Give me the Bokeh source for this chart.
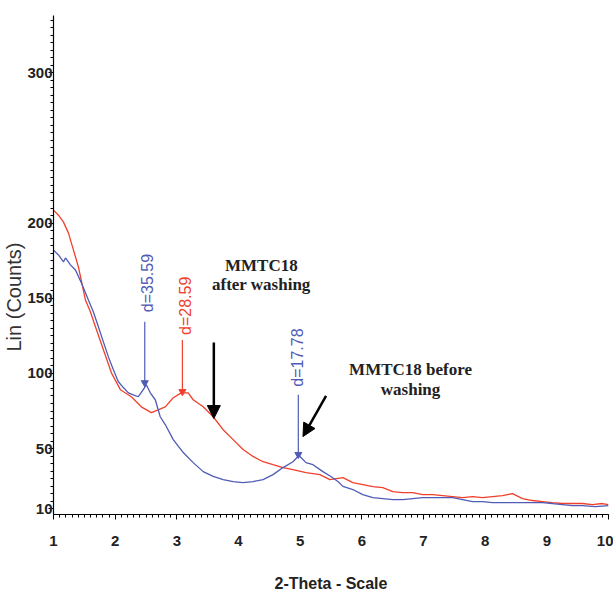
import math
from bokeh.plotting import figure
from bokeh.models import FixedTicker, Label, Arrow, NormalHead, Title
from bokeh.embed import file_html
from bokeh.resources import INLINE

# ---- data ----
red_x = [1.000, 1.081, 1.162, 1.243, 1.324, 1.405, 1.518, 1.599, 1.680, 1.809, 1.939,
         2.084, 2.262, 2.424, 2.586, 2.699, 2.812, 2.942, 3.071, 3.184, 3.265, 3.427,
         3.589, 3.751, 3.913, 4.074, 4.236, 4.398, 4.560, 4.722, 4.883, 5.094, 5.320,
         5.482, 5.693, 5.854, 6.016, 6.178, 6.340, 6.502, 6.663, 6.825, 6.987, 7.149,
         7.311, 7.472, 7.634, 7.796, 7.958, 8.120, 8.282, 8.443, 8.605, 8.767, 8.929,
         9.091, 9.252, 9.414, 9.576, 9.738, 9.900, 10.000]
red_y = [208.6, 205.2, 200.6, 193.3, 182.0, 170.7, 148.8, 140.9, 131.0, 115.7, 100.4,
         89.2, 84.5, 77.8, 73.9, 75.8, 77.8, 83.8, 87.1, 87.1, 82.5, 77.8,
         71.2, 62.6, 56.0, 49.4, 44.8, 41.3, 39.3, 37.4, 36.0, 34.0, 32.7,
         29.4, 30.7, 27.4, 26.1, 24.8, 24.1, 21.4, 20.8, 20.8, 19.4, 19.4,
         18.8, 18.1, 17.4, 18.1, 17.4, 18.1, 18.8, 20.1, 16.8, 15.5, 14.8,
         14.1, 13.5, 13.5, 13.5, 12.8, 13.5, 12.8]

blue_x = [1.000, 1.081, 1.162, 1.194, 1.275, 1.356, 1.453, 1.566, 1.647, 1.728, 1.809,
          1.890, 1.971, 2.052, 2.133, 2.214, 2.294, 2.375, 2.456, 2.505, 2.570, 2.650,
          2.731, 2.812, 2.942, 3.104, 3.265, 3.427, 3.589, 3.751, 3.913, 4.074, 4.236,
          4.398, 4.560, 4.722, 4.883, 4.981, 5.094, 5.207, 5.369, 5.498, 5.612, 5.693,
          5.854, 6.016, 6.178, 6.340, 6.502, 6.663, 6.825, 6.987, 7.149, 7.311, 7.472,
          7.634, 7.796, 7.958, 8.120, 8.282, 8.443, 8.605, 8.767, 8.929, 9.091, 9.252,
          9.414, 9.576, 9.786, 10.000]
blue_y = [182.0, 178.8, 174.1, 176.8, 172.2, 168.8, 160.2, 148.8, 140.9, 131.0, 121.0,
          111.0, 102.4, 94.5, 90.6, 87.1, 85.8, 84.5, 89.2, 92.5, 87.1, 82.5,
          71.2, 66.0, 56.0, 47.4, 40.7, 34.7, 31.5, 29.4, 28.1, 27.4, 28.1,
          29.4, 32.7, 37.4, 41.3, 45.4, 40.7, 39.3, 34.7, 31.5, 28.1, 24.9,
          22.8, 19.4, 17.4, 16.8, 16.1, 16.1, 16.8, 17.4, 17.4, 17.4, 17.4,
          16.1, 14.8, 14.8, 14.1, 14.1, 14.1, 14.1, 14.1, 14.1, 13.5, 12.8,
          12.1, 12.1, 11.5, 12.1]

# peak markers: label, 2-theta, top of leader line, peak value
peak_labels = ["d=35.59", "d=28.59", "d=17.78"]
peak_x = [2.48, 3.09, 4.97]
peak_top = [134.3, 122.2, 85.8]
peak_val = [93.8, 87.9, 46.1]
peak_text_y = [140.7, 125.6, 91.2]

x_ticks = [1, 2, 3, 4, 5, 6, 7, 8, 9, 10]
y_ticks = [10, 50, 100, 150, 200, 300]

RED = "#f0402c"
BLUE = "#4f5bb5"

p = figure(width=613, height=594, output_backend="svg", toolbar_location=None,
           x_range=(1, 10), y_range=(6.2, 338),
           min_border_left=50, min_border_right=5, min_border_top=15, min_border_bottom=79)
p.xgrid.visible = False
p.ygrid.visible = False
p.outline_line_color = None
p.background_fill_color = "white"

p.line(red_x, red_y, line_color=RED, line_width=1.3)
p.line(blue_x, blue_y, line_color=BLUE, line_width=1.3)

peak_cols = [BLUE, RED, BLUE]
p.segment(x0=peak_x, y0=peak_top, x1=peak_x, y1=peak_val, line_color=peak_cols, line_width=1.2)
p.scatter(peak_x, peak_val, marker="inverted_triangle", size=7,
          fill_color=peak_cols, line_color=peak_cols)

offs = [3, 3, -1]
for lab, xx, yy, c, o in zip(peak_labels, peak_x, peak_text_y, peak_cols, offs):
    p.add_layout(Label(x=xx, y=yy, text=lab, angle=math.pi / 2,
                       text_align="left", text_baseline="middle", x_offset=o,
                       text_color=c, text_font="Liberation Sans", text_font_size="16px"))

# annotations
for t, xx, yy in [("MMTC18", 4.37, 172.0), ("after washing", 4.37, 159.0),
                  ("MMTC18 before", 6.79, 102.4), ("washing", 6.79, 89.6)]:
    p.add_layout(Label(x=xx, y=yy, text=t, text_align="center", text_baseline="middle",
                       text_font="Liberation Serif", text_font_style="bold",
                       text_font_size="17px", text_color="#222222"))

p.add_layout(Arrow(end=NormalHead(size=13, fill_color="black", line_color="black"),
                   x_start=3.60, y_start=120.5, x_end=3.60, y_end=70.0,
                   line_width=2.5, line_color="black"))
p.add_layout(Arrow(end=NormalHead(size=13, fill_color="black", line_color="black"),
                   x_start=5.42, y_start=85.0, x_end=5.045, y_end=58.0,
                   line_width=2.5, line_color="black"))

# axes
for ax in (p.xaxis[0], p.yaxis[0]):
    ax.axis_line_color = "black"
    ax.axis_line_width = 1.2
    ax.major_tick_line_color = "black"
    ax.minor_tick_line_color = "black"
    ax.major_tick_in = 0
    ax.minor_tick_in = 0
    ax.major_tick_out = 5
    ax.minor_tick_out = 3
    ax.major_label_text_font = "Liberation Sans"
    ax.major_label_text_font_style = "bold"
    ax.major_label_text_color = "#222222"

p.xaxis.ticker = FixedTicker(ticks=x_ticks, minor_ticks=[1 + 0.1 * i for i in range(91)])
p.yaxis.ticker = FixedTicker(ticks=y_ticks, minor_ticks=list(range(10, 340, 5)))
p.xaxis.major_label_text_font_size = "15px"
p.yaxis.major_label_text_font_size = "15px"
p.xaxis.major_label_standoff = 16
p.yaxis.major_label_standoff = -4

p.xaxis.axis_label = "2-Theta - Scale"
p.xaxis.axis_label_text_font = "Liberation Sans"
p.xaxis.axis_label_text_font_style = "bold"
p.xaxis.axis_label_text_font_size = "16px"
p.xaxis.axis_label_text_color = "#222222"
p.xaxis.axis_label_standoff = 26

p.add_layout(Title(text="Lin (Counts)", align="left", offset=163, standoff=0,
                   text_font="Liberation Sans", text_font_style="normal",
                   text_font_size="20px", text_color="#333333"), "left")

open("out.html", "w").write(file_html(p, INLINE))
